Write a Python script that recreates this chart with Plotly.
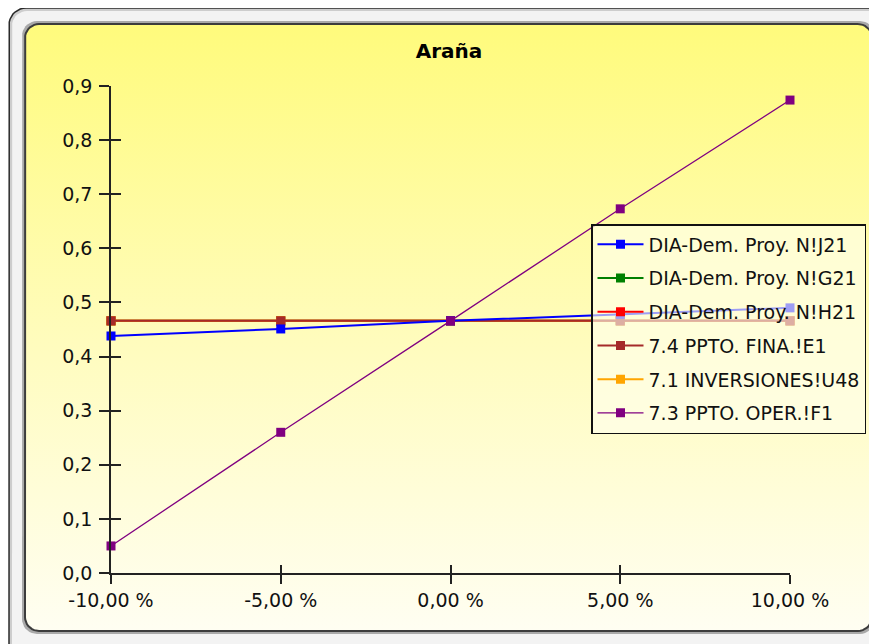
import numpy as np
import plotly.graph_objects as go

# ---------------- data ----------------
x_pct = [-10, -5, 0, 5, 10]
x_tick_vals = [-10, -5, 0, 5, 10]
x_tick_text = ["-10,00 %", "-5,00 %", "0,00 %", "5,00 %", "10,00 %"]
y_tick_vals = [0.0, 0.1, 0.2, 0.3, 0.4, 0.5, 0.6, 0.7, 0.8, 0.9]
y_tick_text = ["0,0", "0,1", "0,2", "0,3", "0,4", "0,5", "0,6", "0,7", "0,8", "0,9"]

s_J21 = [0.438, 0.451, 0.466, 0.478, 0.490]
s_G21 = [0.466, 0.466, 0.466, 0.466, 0.466]
s_H21 = [0.466, 0.466, 0.466, 0.466, 0.466]
s_E1 = [0.466, 0.466, 0.466, 0.466, 0.466]
s_U48 = [0.466, 0.466, 0.466, 0.466, 0.466]
s_F1 = [0.050, 0.260, 0.466, 0.673, 0.874]

names = {
    "J21": "DIA-Dem. Proy. N!J21",
    "G21": "DIA-Dem. Proy. N!G21",
    "H21": "DIA-Dem. Proy. N!H21",
    "E1": "7.4 PPTO. FINA.!E1",
    "U48": "7.1 INVERSIONES!U48",
    "F1": "7.3 PPTO. OPER.!F1",
}

W, H = 877, 644
OFF = 8  # page body margin: figure pixel (0,0) lands at screen (8,8)
# plot area in screen pixels
PL, PR, PT, PB = 111, 790, 86, 573


def fx(px):
    return (px - OFF) / W


def fy(py):
    return 1 - (py - OFF) / H


def rrect(x0, y0, x1, y1, r, n=10):
    """rounded rectangle outline in screen pixel coords (y down) -> x, y(up)"""
    xs, ys = [], []
    corners = [
        (x1 - r, y0 + r, -90, 0),
        (x1 - r, y1 - r, 0, 90),
        (x0 + r, y1 - r, 90, 180),
        (x0 + r, y0 + r, 180, 270),
    ]
    for cx, cy, a0, a1 in corners:
        for a in np.linspace(np.radians(a0), np.radians(a1), n):
            xs.append(cx + r * np.cos(a))
            ys.append(H + OFF - (cy + r * np.sin(a)))
    xs.append(xs[0])
    ys.append(ys[0])
    return xs, ys


fig = go.Figure()

# ---- background frame (subplot xy spans the whole figure) ----
ox, oy = rrect(9, 8, 900, 670, 17)
fig.add_trace(go.Scatter(x=ox, y=oy, mode="lines", fill="toself",
                         fillcolor="#cdcdcd", line=dict(color="#2a2a2a", width=1.5),
                         hoverinfo="skip", showlegend=False, xaxis="x", yaxis="y"))
ix, iy = rrect(12, 11, 897, 667, 15)
fig.add_trace(go.Scatter(x=ix, y=iy, mode="lines", fill="toself",
                         fillcolor="#f3f3f3", line=dict(width=0),
                         hoverinfo="skip", showlegend=False, xaxis="x", yaxis="y"))
sx, sy = rrect(22, 21, 875, 634, 15)
fig.add_trace(go.Scatter(x=sx, y=sy, mode="lines", fill="toself",
                         fillcolor="#a9a9a9", line=dict(width=0),
                         hoverinfo="skip", showlegend=False, xaxis="x", yaxis="y"))
px_, py_ = rrect(25, 24, 872, 631, 14)
fig.add_trace(go.Scatter(x=px_, y=py_, mode="lines", fill="toself",
                         fillgradient=dict(type="vertical",
                                           colorscale=[[0, "#fffef2"], [0.45, "#fffcc0"], [1, "#fffb7c"]]),
                         line=dict(color="#3c3c3c", width=2),
                         hoverinfo="skip", showlegend=False, xaxis="x", yaxis="y"))

# ---- data series ----
series = [
    ("G21", s_G21, "#008000", 2, 2),
    ("H21", s_H21, "#ff0000", 2, 3),
    ("U48", s_U48, "#ffa500", 2, 5),
    ("E1", s_E1, "#a52a2a", 2, 4),
    ("J21", s_J21, "#0000ff", 2, 1),
    ("F1", s_F1, "#800080", 1.3, 6),
]
for key, vals, col, lw, rank in series:
    fig.add_trace(go.Scatter(
        x=x_pct, y=vals, name=names[key], mode="lines+markers",
        line=dict(color=col, width=lw),
        marker=dict(symbol="square", size=9, color=col),
        cliponaxis=False, legendrank=rank, legendgroup=key,
        xaxis="x2", yaxis="y2"))

# invisible trace for the inner-tick overlay axes
fig.add_trace(go.Scatter(x=[None], y=[None], showlegend=False, hoverinfo="skip",
                         xaxis="x3", yaxis="y3"))

dom_x = [fx(PL), fx(PR)]
dom_y = [fy(PB), fy(PT)]
FONT = "DejaVu Sans, Verdana, sans-serif"
tick_font = dict(family=FONT, size=19, color="#111")

fig.update_layout(
    width=W, height=H,
    margin=dict(l=0, r=0, t=0, b=0, pad=0, autoexpand=False),
    paper_bgcolor="white", plot_bgcolor="rgba(0,0,0,0)",
    showlegend=True,
    title=dict(text="<b>Araña</b>", x=fx(449), xanchor="center",
               y=fy(51), yanchor="middle", yref="container", automargin=False,
               font=dict(family=FONT, size=20, color="#000")),
    xaxis=dict(domain=[0, 1], range=[OFF, W + OFF], visible=False, fixedrange=True, automargin=False),
    yaxis=dict(domain=[0, 1], range=[0, H], visible=False, fixedrange=True, automargin=False),
    xaxis2=dict(domain=dom_x, anchor="y2", range=[-10, 10], automargin=False,
                tickvals=x_tick_vals, ticktext=x_tick_text,
                ticks="outside", ticklen=9, tickwidth=1.5, tickcolor="#222",
                showline=True, linecolor="#222", linewidth=1.5,
                showgrid=False, zeroline=False, tickfont=tick_font,
                ticklabelstandoff=0),
    yaxis2=dict(domain=dom_y, anchor="x2", range=[0, 0.9], automargin=False,
                tickvals=y_tick_vals, ticktext=y_tick_text,
                ticks="outside", ticklen=10, tickwidth=1.5, tickcolor="#222",
                showline=True, linecolor="#222", linewidth=1.5,
                showgrid=False, zeroline=False, tickfont=tick_font,
                ticklabelstandoff=3),
    xaxis3=dict(overlaying="x2", anchor="y3", range=[-10, 10], automargin=False,
                tickvals=x_tick_vals, ticks="inside", ticklen=8, tickwidth=1.5,
                tickcolor="#222", showticklabels=False, showline=False,
                showgrid=False, zeroline=False),
    yaxis3=dict(overlaying="y2", anchor="x3", range=[0, 0.9], automargin=False,
                tickvals=y_tick_vals, ticks="inside", ticklen=10, tickwidth=1.5,
                tickcolor="#222", showticklabels=False, showline=False,
                showgrid=False, zeroline=False),
    legend=dict(x=fx(591), y=fy(224), xanchor="left", yanchor="top",
                bgcolor="rgba(255,255,238,0.62)", bordercolor="#111", borderwidth=1.5,
                font=dict(family=FONT, size=19, color="#111"),
                traceorder="grouped", tracegroupgap=6, itemwidth=46),
)

fig.write_html("out.html")
